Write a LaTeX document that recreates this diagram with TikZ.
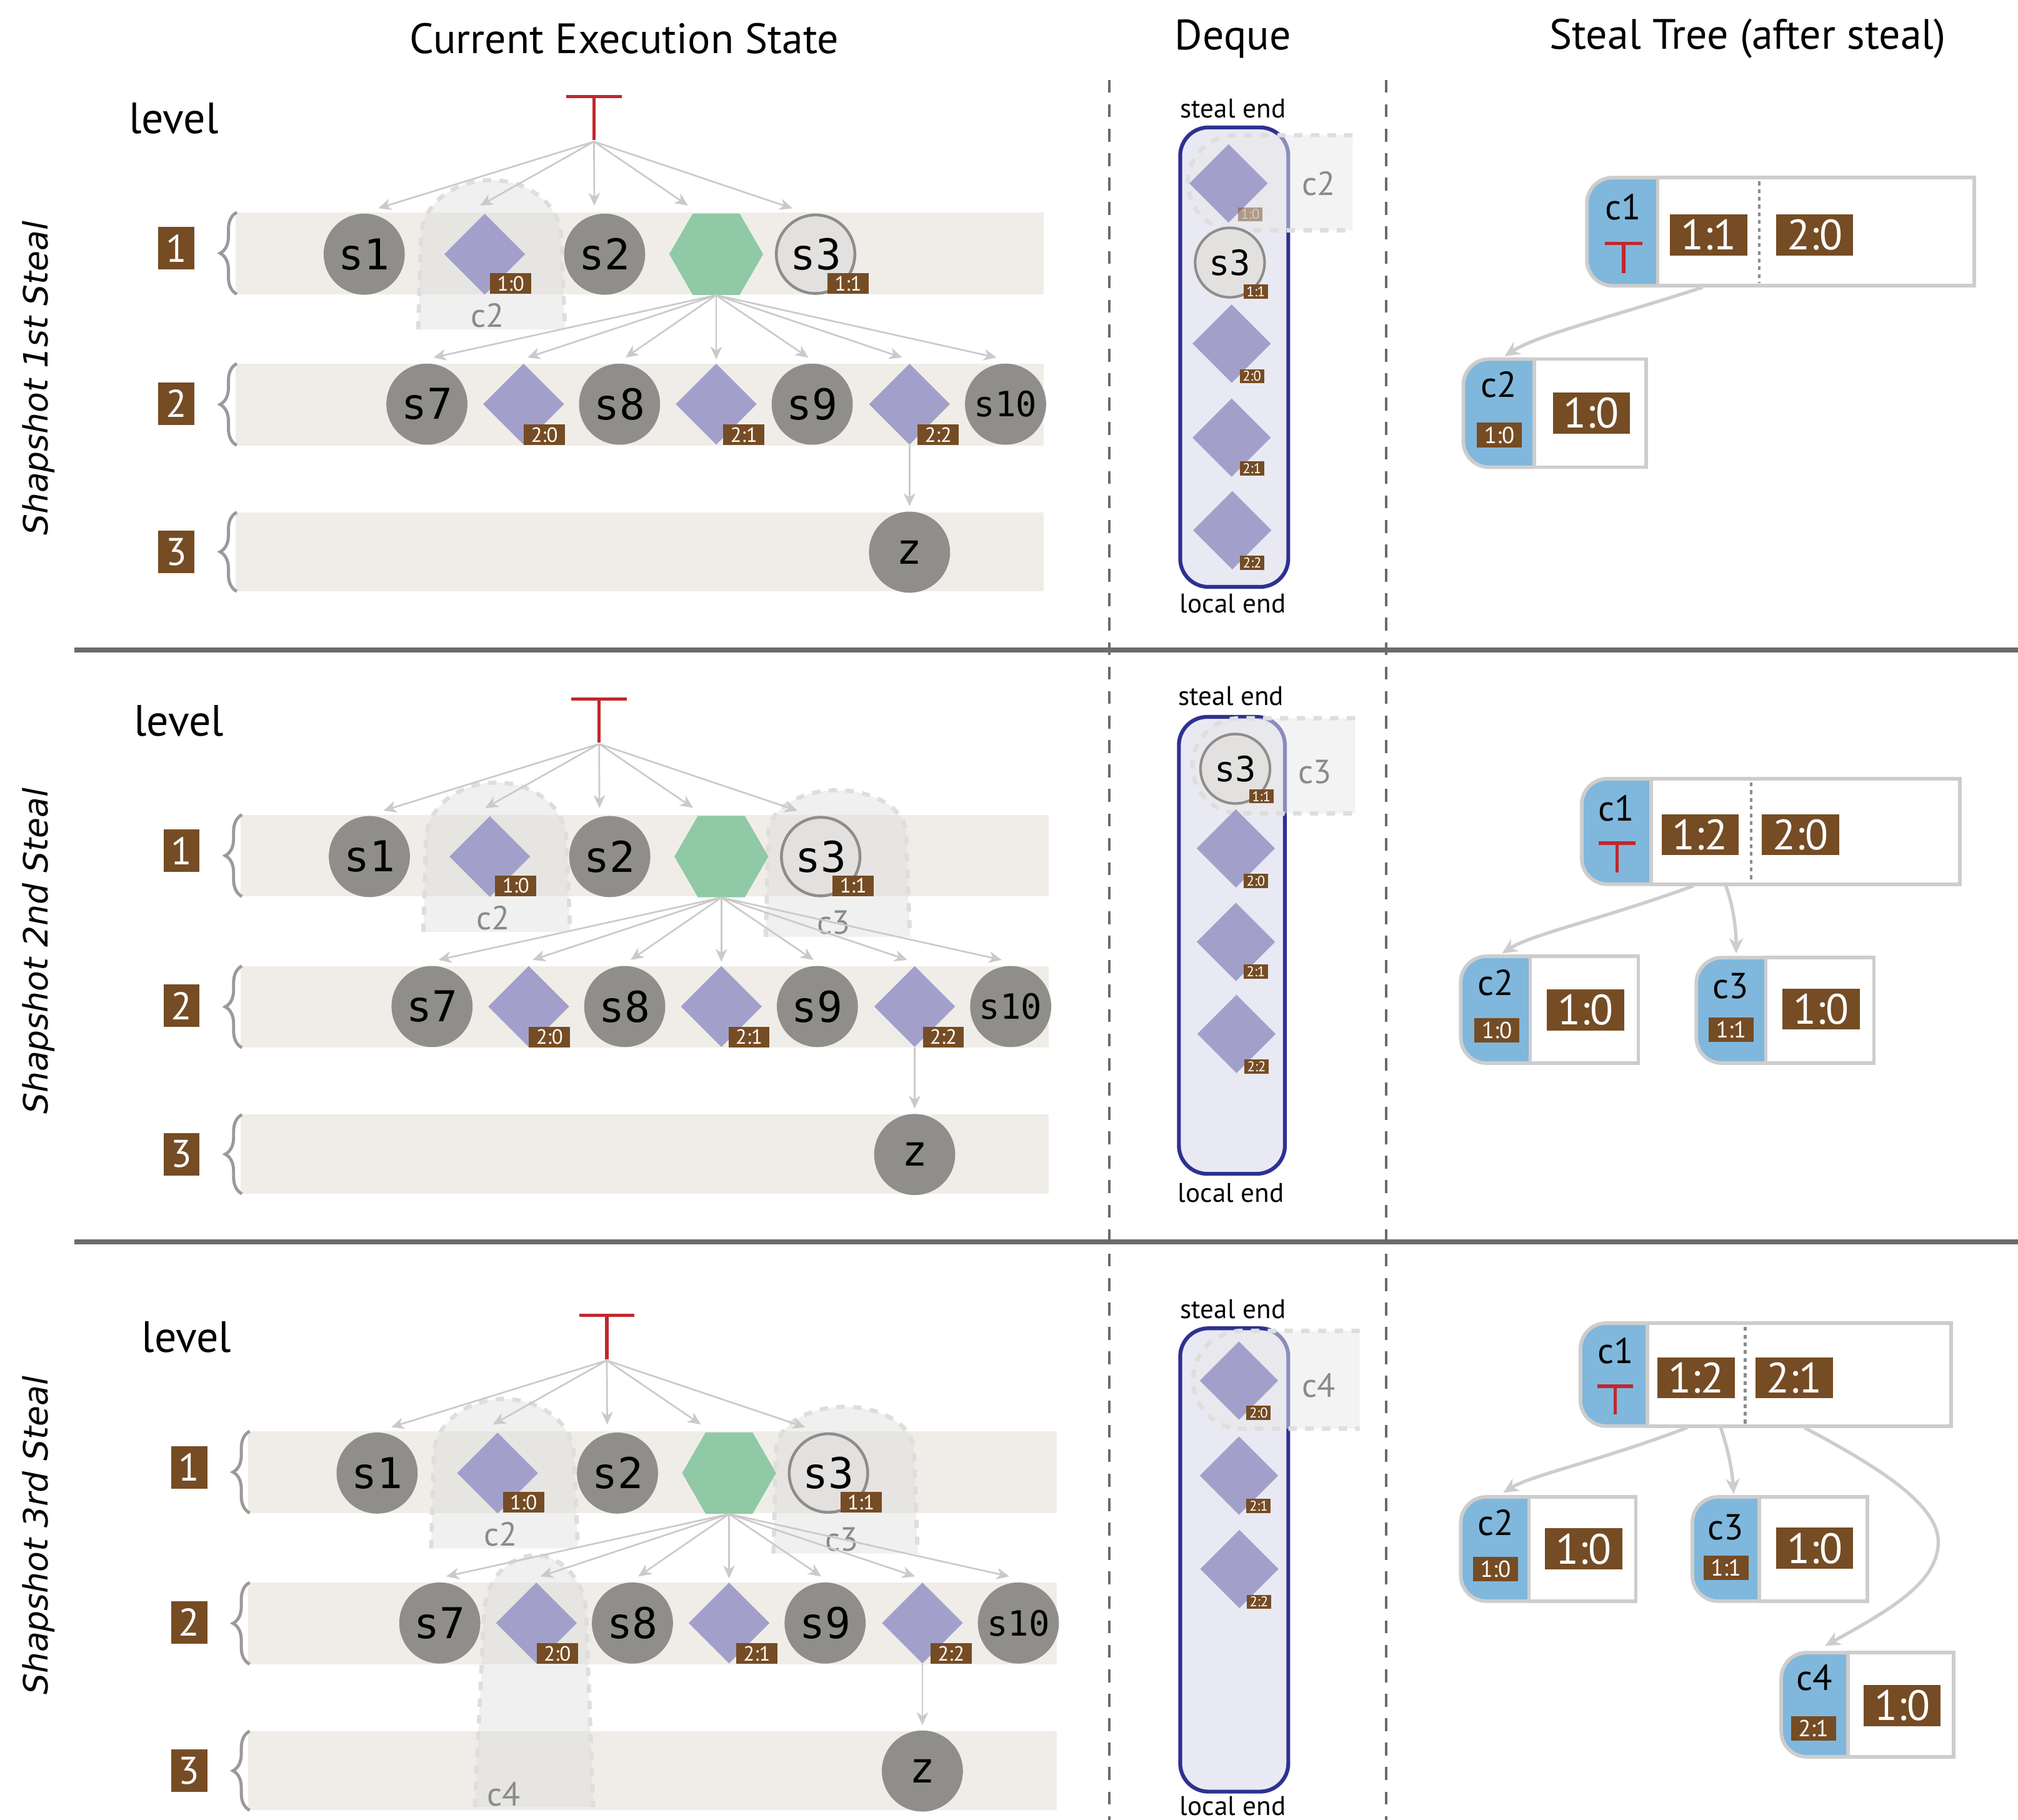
\documentclass[tikz,border=0pt]{standalone}
\usepackage{fontspec}
\setmainfont{PT Sans}
\newfontfamily\taskfont{DejaVu Sans Mono}
\newfontfamily\slantfont{DejaVu Sans}
\usetikzlibrary{shapes.geometric,arrows.meta,decorations.pathreplacing,fit}

\definecolor{bandc}{HTML}{F0EDE8}
\definecolor{taskc}{HTML}{8F8E8A}
\definecolor{contc}{HTML}{A2A0CB}
\definecolor{syncc}{HTML}{90C9A6}
\definecolor{stolenfill}{HTML}{E3E1DF}
\definecolor{stolenedge}{HTML}{8E8D8B}
\definecolor{brownc}{HTML}{754C24}
\definecolor{redc}{HTML}{C1272D}
\definecolor{arrowc}{HTML}{CACACA}
\definecolor{dequefill}{HTML}{E9E9F3}
\definecolor{dequeedge}{HTML}{2E3192}
\definecolor{treeblue}{HTML}{80B7DC}
\definecolor{treeedge}{HTML}{CDCDCD}
\definecolor{ghostc}{HTML}{DADADA}
\definecolor{dqghostc}{HTML}{E8E8E8}
\definecolor{ghostedge}{HTML}{DEDEDE}
\definecolor{ghosttext}{HTML}{8A8A8A}
\definecolor{sepc}{HTML}{6B6B6B}
\definecolor{bracec}{HTML}{9A9A9A}

\newcommand\fsz[1]{\fontsize{#1}{#1}\selectfont}

\tikzset{
  header/.style={font=\fsz{33}},
  lvltext/.style={font=\fsz{34}},
  snaptext/.style={rotate=90, font=\slantfont\itshape\fsz{26}},
  lvlband/.style={fill=bandc},
  lvlbrace/.style={draw=bracec, line width=2.4pt, decorate,
    decoration={brace, amplitude=13pt, aspect=0.5}},
  lvlbox/.style={fill=brownc, text=white, inner sep=0, minimum width=28pt,
    minimum height=33pt, font=\fsz{30}},
  task/.style={circle, fill=taskc, inner sep=0, minimum size=63pt,
    font=\taskfont\fsz{33}},
  task10/.style={task, font=\taskfont\fsz{27}},
  stolen/.style={circle, fill=stolenfill, draw=stolenedge, line width=2.2pt,
    inner sep=0, minimum size=61pt, font=\taskfont\fsz{33}},
  cont/.style={diamond, fill=contc, inner sep=0, minimum size=63pt},
  sync/.style={regular polygon, regular polygon sides=6, fill=syncc,
    inner sep=0, minimum size=73pt},
  tag/.style={fill=brownc, text=white, inner sep=0, minimum width=32pt,
    minimum height=16pt, font=\fsz{16}},
  flow/.style={draw=arrowc, line width=1.3pt,
    -{Stealth[length=10pt,width=9pt,inset=3pt]}},
  tee/.style={draw=redc, line width=2.6pt},
  ghostfill/.style={fill=ghostc, fill opacity=0.4},
  dqghostfill/.style={fill=dqghostc, fill opacity=0.5},
  ghostline/.style={draw=ghostedge, line width=3.3pt,
    dash pattern=on 6.5pt off 6.5pt},
  ghostlabel/.style={text=ghosttext, font=\fsz{26}},
  deque/.style={draw=dequeedge, fill=dequefill, line width=3pt,
    rounded corners=22pt},
  endlabel/.style={font=\fsz{21}},
  dqcont/.style={diamond, fill=contc, inner sep=0, minimum size=61pt},
  dqstolen/.style={circle, fill=stolenfill, draw=stolenedge, line width=2pt,
    inner sep=0, minimum size=54pt, font=\taskfont\fsz{27}},
  dqtag/.style={fill=brownc, text=white, inner sep=0, minimum width=19pt,
    minimum height=11pt, font=\fsz{11}},
  treepart/.style={fill=treeblue, draw=treeedge, line width=2.8pt,
    rounded corners=20pt},
  treebody/.style={fill=white, draw=treeedge, line width=2.8pt},
  clabel/.style={font=\fsz{28}},
  bigtag/.style={fill=brownc, text=white, inner sep=0, minimum width=60pt,
    minimum height=32pt, font=\fsz{33}},
  midtag/.style={fill=brownc, text=white, inner sep=0, minimum width=35pt,
    minimum height=19pt, font=\fsz{18}},
  treelink/.style={draw=treeedge, line width=2.6pt,
    -{Stealth[length=12pt,width=11pt,inset=4pt]}},
  divider/.style={draw=gray!90, line width=2.2pt, dash pattern=on 3pt off 3pt},
  sep/.style={draw=sepc, line width=4pt},
  colsep/.style={draw=sepc, line width=2.2pt, dash pattern=on 10pt off 9pt},
}

% arched frame of a stolen continuation in the execution state
% #1 bottom-left x, #2 arch-left x, #3 arch-right x, #4 bottom-right x,
% #5 arch start y, #6 top y, #7 bottom y
\newcommand\archghost[7]{%
  \fill[ghostfill] (#1,#7) -- (#2,#5)
    arc[start angle=180, end angle=360, x radius={(#3-#2)/2}, y radius={#5-#6}]
    -- (#4,#7) -- cycle;
  \draw[ghostline] (#1,#7) -- (#2,#5)
    arc[start angle=180, end angle=360, x radius={(#3-#2)/2}, y radius={#5-#6}]
    -- (#4,#7);
}

% frame of the stolen entry at the steal end of a deque
% #1 left x, #2 right x, #3 top y, #4 bottom y, #5 radius
\newcommand\dqghost[5]{%
  \fill[dqghostfill] (#2,#3) -- ({#1+#5},#3)
    arc[start angle=270, end angle=90, radius=#5] -- (#2,#4) -- cycle;
  \draw[ghostline] (#2,#3) -- ({#1+#5},#3)
    arc[start angle=270, end angle=90, radius=#5] -- (#2,#4);
}

% steal tree record: #1 name, #2 left x, #3 split x, #4 right x, #5 top y, #6 bottom y
\newcommand\treebox[6]{%
  \path[treepart] (#3,#5) -- (#2,#5) -- (#2,#6) -- (#3,#6);
  \path[treebody] (#3,#5) rectangle (#4,#6);
  \coordinate (#1-nw) at (#2,#5);
  \coordinate (#1-se) at (#4,#6);
  \node[fit=(#1-nw)(#1-se), inner sep=0] (#1) {};
}

% execution state of one snapshot: #1 name prefix, #2 stolen frames
\newcommand\execpanel[2]{%
  \fill[lvlband] (183,165) rectangle (811,228.5);
  \fill[lvlband] (183,282.5) rectangle (811,346);
  \fill[lvlband] (183,398) rectangle (811,459.5);
  \draw[lvlbrace] (184,228.5) -- (184,165);
  \draw[lvlbrace] (184,346) -- (184,282.5);
  \draw[lvlbrace] (184,459.5) -- (184,398);
  \node[lvltext] (#1-lv) at (135,92) {level};
  \node[lvlbox] (#1-n1) at (137,193) {1};
  \node[lvlbox] (#1-n2) at (137,313.5) {2};
  \node[lvlbox] (#1-n3) at (137,428.7) {3};
  #2%
  \draw[tee] (440,75) -- (483,75) (461.5,75) -- (461.5,109);
  \coordinate (#1-top) at (461.5,110);
  \node[task] (#1-s1) at (283,197.5) {s1};
  \node[cont] (#1-d10) at (376.6,197.5) {};
  \node[task] (#1-s2) at (469.8,197.5) {s2};
  \node[sync] (#1-hex) at (556.5,197.5) {};
  \node[stolen] (#1-s3) at (633.7,197.5) {s3};
  \node[tag] (#1-t10) at (396.8,220.3) {1:0};
  \node[tag] (#1-t11) at (659,220.3) {1:1};
  \node[task] (#1-s7) at (331.7,314) {s7};
  \node[cont] (#1-d20) at (406.8,314) {};
  \node[task] (#1-s8) at (481.4,314) {s8};
  \node[cont] (#1-d21) at (556.5,314) {};
  \node[task] (#1-s9) at (631.1,314) {s9};
  \node[cont] (#1-d22) at (706.7,314) {};
  \node[task10] (#1-s10) at (781.3,314) {s10};
  \node[tag] (#1-t20) at (423,337.8) {2:0};
  \node[tag] (#1-t21) at (578,337.8) {2:1};
  \node[tag] (#1-t22) at (729,337.8) {2:2};
  \node[task] (#1-z) at (706.7,429) {z};
  \draw[flow] (#1-top) -- ([shift={(11pt,4pt)}]#1-s1.north);
  \draw[flow] (#1-top) -- ([shift={(-3.6pt,6pt)}]#1-d10.north);
  \draw[flow] (#1-top) -- ([shift={(-8pt,6pt)}]#1-s2.north);
  \draw[flow] (#1-top) -- ([shift={(-22pt,6pt)}]#1-hex.north);
  \draw[flow] (#1-top) -- ([shift={(-18pt,4pt)}]#1-s3.north);
  \draw[flow] (#1-hex.south) -- ([shift={(5pt,4.5pt)}]#1-s7.north);
  \draw[flow] (#1-hex.south) -- ([shift={(3pt,4.5pt)}]#1-d20.north);
  \draw[flow] (#1-hex.south) -- ([shift={(4.6pt,4.5pt)}]#1-s8.north);
  \draw[flow] (#1-hex.south) -- ([shift={(0pt,3pt)}]#1-d21.north);
  \draw[flow] (#1-hex.south) -- ([shift={(-3pt,4.5pt)}]#1-s9.north);
  \draw[flow] (#1-hex.south) -- ([shift={(-5.7pt,4.5pt)}]#1-d22.north);
  \draw[flow] (#1-hex.south) -- ([shift={(-7pt,4.5pt)}]#1-s10.north);
  \draw[flow] (#1-d22.south) -- ([yshift=4pt]#1-z.north);
}

\newcommand\ghostctwo{%
  \archghost{325}{327}{436}{439}{185}{140}{256}%
  \node[ghostlabel] (gl-c2) at (379,245) {c2};}
\newcommand\ghostcthree{%
  \archghost{591}{593}{700}{703}{180}{146}{260}%
  \node[ghostlabel] (gl-c3) at (644,249) {c3};}
\newcommand\ghostcfour{%
  \archghost{359}{366}{445.5}{451}{309}{261.5}{457}%
  \node[ghostlabel] (gl-c4) at (381.5,447) {c4};}

\begin{document}
\begin{tikzpicture}[x=1pt,y=-1pt]
\useasboundingbox (0,0) rectangle (1568,1414);

% column headers
\node[header] (h-exec) at (485,30) {Current Execution State};
\node[header] (h-deque) at (958,30) {Deque};
\node[header] (h-tree) at (1358,30) {Steal Tree (after steal)};

% column and snapshot separators
\draw[colsep] (862,62) -- (862,1414);
\draw[colsep] (1077,62) -- (1077,1414);
\draw[sep] (58,505) -- (1568,505);
\draw[sep] (58,965) -- (1568,965);

% snapshot titles
\node[snaptext] (snap1) at (30,294) {Shapshot 1st Steal};
\node[snaptext] (snap2) at (30,739) {Shapshot 2nd Steal};
\node[snaptext] (snap3) at (30,1193) {Shapshot 3rd Steal};

% ---------- execution states ----------
\execpanel{ea}{\ghostctwo}
\begin{scope}[shift={(4,468)}]
  \execpanel{eb}{\ghostctwo\ghostcthree}
\end{scope}
\begin{scope}[shift={(10,947)}]
  \execpanel{ec}{\ghostctwo\ghostcthree\ghostcfour}
\end{scope}

% ---------- deques ----------
% first steal
\path[deque] (917,99) rectangle (1001,456);
\node[endlabel] (qa-top) at (958,84.5) {steal end};
\node[endlabel] (qa-bot) at (958,469) {local end};
\dqghost{923}{1051}{105}{179}{37}
\node[ghostlabel] (qa-gl) at (1024.6,142.5) {c2};
\node[dqcont] (qa-d10) at (954.6,142.5) {};
\node[dqtag, opacity=0.5] (qa-t10) at (971.5,166.5) {1:0};
\node[dqstolen] (qa-s3) at (955.6,204) {s3};
\node[dqtag] (qa-t11) at (975.8,226.4) {1:1};
\node[dqcont] (qa-d20) at (957,267) {};
\node[dqtag] (qa-t20) at (972.7,292.3) {2:0};
\node[dqcont] (qa-d21) at (957,340) {};
\node[dqtag] (qa-t21) at (972.7,363.8) {2:1};
\node[dqcont] (qa-d22) at (957.5,412) {};
\node[dqtag] (qa-t22) at (973,437.4) {2:2};

% second steal
\path[deque] (916,557) rectangle (998.4,912);
\node[endlabel] (qb-top) at (956.5,541) {steal end};
\node[endlabel] (qb-bot) at (956.5,927) {local end};
\dqghost{926.5}{1053}{558}{632}{37}
\node[ghostlabel] (qb-gl) at (1021.7,599.6) {c3};
\node[dqstolen] (qb-s3) at (959.8,597.3) {s3};
\node[dqtag] (qb-t11) at (980,618.7) {1:1};
\node[dqcont] (qb-d20) at (960.3,659.2) {};
\node[dqtag] (qb-t20) at (975.8,684.3) {2:0};
\node[dqcont] (qb-d21) at (960.3,731.8) {};
\node[dqtag] (qb-t21) at (975.8,755) {2:1};
\node[dqcont] (qb-d22) at (960.8,803.3) {};
\node[dqtag] (qb-t22) at (976.3,828.6) {2:2};

% third steal
\path[deque] (917,1032) rectangle (1001,1392);
\node[endlabel] (qc-top) at (958,1017) {steal end};
\node[endlabel] (qc-bot) at (958,1403) {local end};
\dqghost{927}{1056.5}{1034}{1110}{38}
\node[ghostlabel] (qc-gl) at (1024.6,1076.4) {c4};
\node[dqcont] (qc-d20) at (962.7,1072.7) {};
\node[dqtag] (qc-t20) at (977.9,1097.6) {2:0};
\node[dqcont] (qc-d21) at (962.7,1146.5) {};
\node[dqtag] (qc-t21) at (977.9,1170) {2:1};
\node[dqcont] (qc-d22) at (963,1219) {};
\node[dqtag] (qc-t22) at (978.2,1244.5) {2:2};

% ---------- steal trees ----------
% first steal
\treebox{ta-c1}{1233}{1288}{1534}{138}{222}
\node[clabel] (ta-c1l) at (1261,161) {c1};
\draw[tee] (1247,189) -- (1276,189) (1261.5,189) -- (1261.5,212);
\node[bigtag] (ta-c1a) at (1327.5,182.5) {1:1};
\node[bigtag] (ta-c1b) at (1410,182.5) {2:0};
\draw[divider] (1367,141) -- (1367,220);
\treebox{ta-c2}{1137}{1192}{1279}{279}{363}
\node[clabel] (ta-c2l) at (1164.5,299) {c2};
\node[midtag] (ta-c2s) at (1165,338) {1:0};
\node[bigtag] (ta-c2a) at (1236.5,321) {1:0};
\draw[treelink] ([shift={(-60.5pt,-1pt)}]ta-c1.south)
  .. controls (1250,247) and (1195,260) .. ([shift={(-39pt,2pt)}]ta-c2.north);

% second steal
\treebox{tb-c1}{1229}{1283}{1523}{605}{687}
\node[clabel] (tb-c1l) at (1256,628) {c1};
\draw[tee] (1242,655) -- (1271,655) (1256.5,655) -- (1256.5,678);
\node[bigtag] (tb-c1a) at (1321,648.5) {1:2};
\node[bigtag] (tb-c1b) at (1399,648.5) {2:0};
\draw[divider] (1360.6,608) -- (1360.6,685);
\treebox{tb-c2}{1135}{1189}{1273}{743}{826}
\node[clabel] (tb-c2l) at (1162,763.5) {c2};
\node[midtag] (tb-c2s) at (1163,800.5) {1:0};
\node[bigtag] (tb-c2a) at (1232,784.5) {1:0};
\treebox{tb-c3}{1318}{1372}{1456}{744}{826}
\node[clabel] (tb-c3l) at (1344.5,766) {c3};
\node[midtag] (tb-c3s) at (1345,800) {1:1};
\node[bigtag] (tb-c3a) at (1415,784) {1:0};
\draw[treelink] ([shift={(-60pt,-1pt)}]tb-c1.south)
  .. controls (1245,714) and (1190,726) .. ([shift={(-37pt,2pt)}]tb-c2.north);
\draw[treelink] ([shift={(-35pt,-1pt)}]tb-c1.south)
  .. controls (1347,705) and (1349,722) .. ([shift={(-38pt,3pt)}]tb-c3.north);

% third steal
\treebox{tc-c1}{1228}{1280}{1516}{1028}{1108}
\node[clabel] (tc-c1l) at (1255.5,1049.5) {c1};
\draw[tee] (1241,1077) -- (1269,1077) (1255,1077) -- (1255,1099);
\node[bigtag] (tc-c1a) at (1318,1070.5) {1:2};
\node[bigtag] (tc-c1b) at (1394,1070.5) {2:1};
\draw[divider] (1356,1031) -- (1356,1106);
\treebox{tc-c2}{1135}{1188}{1271}{1163}{1244}
\node[clabel] (tc-c2l) at (1162,1183) {c2};
\node[midtag] (tc-c2s) at (1162,1219) {1:0};
\node[bigtag] (tc-c2a) at (1230.5,1203.5) {1:0};
\treebox{tc-c3}{1315}{1367}{1451}{1163}{1244}
\node[clabel] (tc-c3l) at (1341,1186.5) {c3};
\node[midtag] (tc-c3s) at (1341,1218) {1:1};
\node[bigtag] (tc-c3a) at (1410,1203) {1:0};
\treebox{tc-c4}{1384}{1436}{1518}{1284}{1365}
\node[clabel] (tc-c4l) at (1410,1303.5) {c4};
\node[midtag] (tc-c4s) at (1409,1343) {2:1};
\node[bigtag] (tc-c4a) at (1478,1325) {1:0};
\draw[treelink] ([shift={(-61pt,-1pt)}]tc-c1.south)
  .. controls (1240,1136) and (1190,1146) .. ([shift={(-35pt,3pt)}]tc-c2.north);
\draw[treelink] ([shift={(-35pt,-1pt)}]tc-c1.south)
  .. controls (1343,1127) and (1346,1143) .. ([shift={(-36pt,2pt)}]tc-c3.north);
\draw[treelink] ([shift={(30pt,-1pt)}]tc-c1.south)
  .. controls (1460,1140) and (1508,1170) .. (1506,1200)
  .. controls (1504,1230) and (1470,1250) .. ([shift={(-33pt,5pt)}]tc-c4.north);
\end{tikzpicture}
\end{document}
